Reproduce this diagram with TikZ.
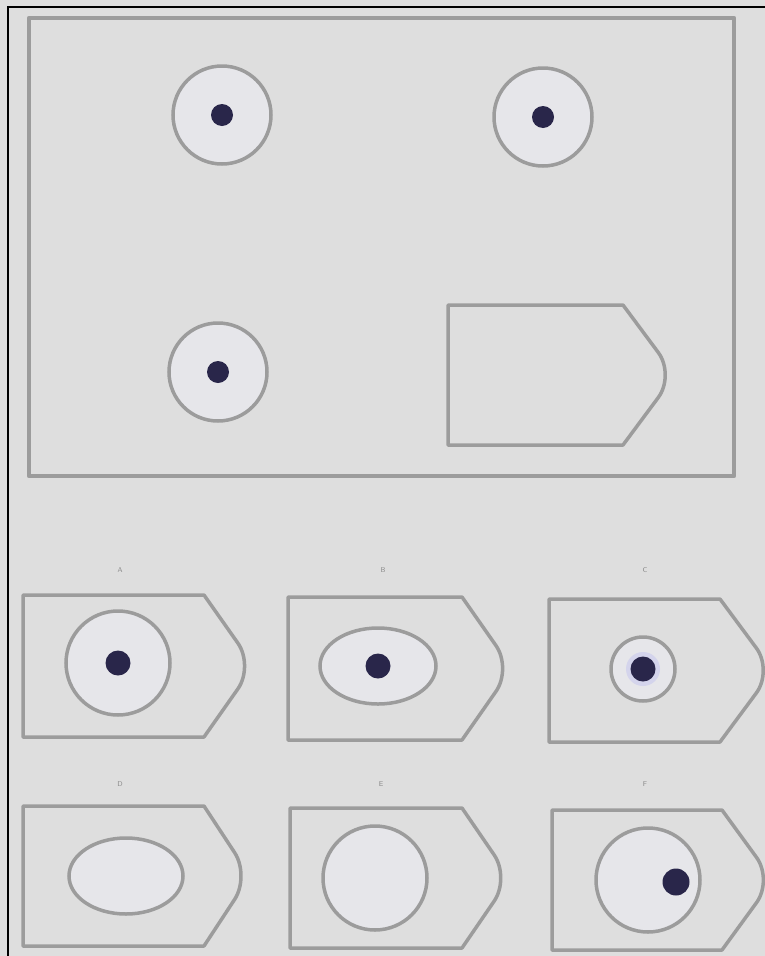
\documentclass[tikz,border=0pt]{standalone}
\usetikzlibrary{shapes.geometric}
\definecolor{bg}{HTML}{DEDEDE}
\definecolor{edge}{HTML}{9C9C9C}
\definecolor{inner}{HTML}{E6E6EA}
\definecolor{dotc}{HTML}{29264A}
\definecolor{lbl}{HTML}{8A8A8A}
\tikzset{
  ring/.style={circle, draw=edge, line width=3.5pt, fill=inner, inner sep=0pt, minimum size=#1},
  oval/.style={ellipse, draw=edge, line width=3.5pt, fill=inner, inner sep=0pt},
  blob/.style={circle, fill=dotc, inner sep=0pt, minimum size=#1},
  frame/.style={draw=edge, line width=3.5pt, line join=round},
  optlabel/.style={text=lbl, font=\scriptsize\sffamily, inner sep=0pt}
}
\newcommand{\tagshape}[5]{% left, shoulder, tip, top, bottom
  \draw[frame] (#1,#4) -- (#2,#4) [rounded corners=28pt] -- (#3,{(#4+#5)/2}) [sharp corners] -- (#2,#5) -- (#1,#5) -- cycle;}
\begin{document}
\begin{tikzpicture}[x=1pt,y=-1pt]
\useasboundingbox (0,0) rectangle (765,956);
\fill[bg] (0,0) rectangle (765,956);
% outer black edges
\draw[black, line width=2pt] (8,956) -- (8,7) -- (765,7);
% top panel
\draw[frame, line width=4.5pt] (29,18) rectangle (734,476);
\node[ring=98pt] (r1) at (222,115) {};
\node[blob=22pt] (d1) at (r1) {};
\node[ring=98pt] (r2) at (543,117) {};
\node[blob=22pt] (d2) at (r2) {};
\node[ring=98pt] (r3) at (218,372) {};
\node[blob=22pt] (d3) at (r3) {};
\tagshape{448}{623}{675}{305}{445}
% labels
\node[optlabel] (l1) at (120,570) {A};
\node[optlabel] (l2) at (383,570) {B};
\node[optlabel] (l3) at (645,570) {C};
\node[optlabel] (l4) at (120,784) {D};
\node[optlabel] (l5) at (381,784) {E};
\node[optlabel] (l6) at (645,784) {F};
% option shapes row 1
\tagshape{23}{204}{254}{595}{737}
\tagshape{288}{462}{512}{597}{740}
\tagshape{549}{720}{773}{599}{742}
% option shapes row 2
\tagshape{23}{204}{250}{806}{946}
\tagshape{290}{462}{510}{808}{948}
\tagshape{552}{722}{773}{810}{950}
% option contents row 1
\node[ring=104pt] (o1) at (118,663) {};
\node[blob=25pt] (p1) at (o1) {};
\node[oval, minimum width=116pt, minimum height=76pt] (o2) at (378,666) {};
\node[blob=25pt] (p2) at (o2) {};
\node[ring=64pt] (o3) at (643,669) {};
\node[circle, fill=blue!8!inner, inner sep=0pt, minimum size=34pt] (h3) at (o3) {};
\node[blob=25pt] (p3) at (o3) {};
% option contents row 2
\node[oval, minimum width=114pt, minimum height=76pt] (o4) at (126,876) {};
\node[ring=104pt] (o5) at (375,878) {};
\node[ring=104pt] (o6) at (648,880) {};
\node[blob=27pt] (p6) at (676,882) {};
\end{tikzpicture}
\end{document}
